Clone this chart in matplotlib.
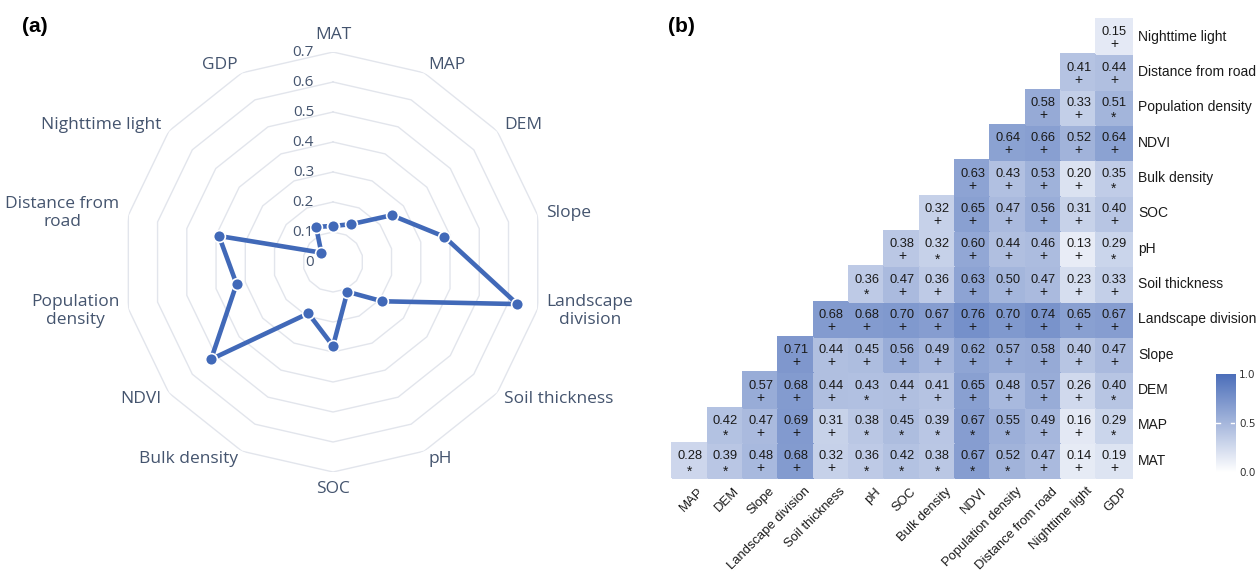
import numpy as np
import matplotlib
matplotlib.use("Agg")
import matplotlib.pyplot as plt
from matplotlib.colors import LinearSegmentedColormap

# ---- radar data (a) ----
radar_labels = ["MAT", "MAP", "DEM", "Slope", "Landscape\ndivision", "Soil thickness",
                "pH", "SOC", "Bulk density", "NDVI", "Population\ndensity",
                "Distance from\nroad", "Nighttime light", "GDP"]
radar_values = [0.12, 0.14, 0.25, 0.38, 0.63, 0.21, 0.11, 0.28, 0.19, 0.52, 0.33,
                0.39, 0.05, 0.13]
radar_ticks = [0, 0.1, 0.2, 0.3, 0.4, 0.5, 0.6, 0.7]

# ---- correlation data (b) ----
row_names = ["MAT", "MAP", "DEM", "Slope", "Landscape division", "Soil thickness", "pH",
             "SOC", "Bulk density", "NDVI", "Population density", "Distance from road",
             "Nighttime light"]
col_names = ["MAP", "DEM", "Slope", "Landscape division", "Soil thickness", "pH", "SOC",
             "Bulk density", "NDVI", "Population density", "Distance from road",
             "Nighttime light", "GDP"]
# each row starts at the column with the same index (upper triangle)
corr_rows = [
    [0.28, 0.39, 0.48, 0.68, 0.32, 0.36, 0.42, 0.38, 0.67, 0.52, 0.47, 0.14, 0.19],
    [0.42, 0.47, 0.69, 0.31, 0.38, 0.45, 0.39, 0.67, 0.55, 0.49, 0.16, 0.29],
    [0.57, 0.68, 0.44, 0.43, 0.44, 0.41, 0.65, 0.48, 0.57, 0.26, 0.40],
    [0.71, 0.44, 0.45, 0.56, 0.49, 0.62, 0.57, 0.58, 0.40, 0.47],
    [0.68, 0.68, 0.70, 0.67, 0.76, 0.70, 0.74, 0.65, 0.67],
    [0.36, 0.47, 0.36, 0.63, 0.50, 0.47, 0.23, 0.33],
    [0.38, 0.32, 0.60, 0.44, 0.46, 0.13, 0.29],
    [0.32, 0.65, 0.47, 0.56, 0.31, 0.40],
    [0.63, 0.43, 0.53, 0.20, 0.35],
    [0.64, 0.66, 0.52, 0.64],
    [0.58, 0.33, 0.51],
    [0.41, 0.44],
    [0.15],
]
sig_rows = ["**+++*****+++", "*+++*****++*", "+++*++++++*", "++++++++++", "+++++++++",
            "*+++++++", "+*++++*", "++++++", "++++*", "++++", "++*", "++", "+"]

line_color = "#4169b8"
grid_color = "#e2e5ec"
label_color = "#44546e"

fig = plt.figure(figsize=(12.57, 5.78), dpi=100)

# ================= (a) radar =================
ax = fig.add_axes([0.0979, 0.1834, 0.3341, 0.7266], projection="polar")
ax.set_theta_zero_location("N")
ax.set_theta_direction(-1)
ax.set_ylim(0, 0.7)
ax.axis("off")

n = len(radar_labels)
theta = np.arange(n) * 2 * np.pi / n
theta_c = np.r_[theta, theta[0]]

for r in radar_ticks[1:]:
    ax.plot(theta_c, [r] * (n + 1), color=grid_color, lw=1.0, zorder=1)

vals = np.r_[radar_values, radar_values[0]]
ax.plot(theta_c, vals, color=line_color, lw=3.3, marker="o", ms=8.5,
        mec="white", mew=1.2, zorder=3, solid_joinstyle="round")

for t, lab in zip(theta, radar_labels):
    s, c = np.sin(t), np.cos(t)
    if abs(s) < 0.01:
        ha = "center"
        va = "bottom" if c > 0 else "top"
    else:
        ha = "left" if s > 0 else "right"
        va = "center"
    ax.annotate(lab, xy=(t, 0.7), xytext=(9 * s, 9 * c), textcoords="offset pixels",
                ha=ha, va=va, fontsize=12.5, color=label_color, family="Open Sans",
                multialignment="center", linespacing=1.15, annotation_clip=False)

for r in radar_ticks:
    ax.annotate("%g" % r, xy=(0, r), xytext=(-19, 0), textcoords="offset pixels",
                ha="right", va="center", fontsize=11, color=label_color,
                family="Open Sans", annotation_clip=False)

fig.text(0.0175, 0.955, "(a)", fontsize=15, fontweight="bold", family="Liberation Sans",
         ha="left", va="center")

# ================= (b) correlation heatmap =================
cmap = LinearSegmentedColormap.from_list("wb", ["#ffffff", "#4a6db9"])

nr, nc = len(row_names), len(col_names)
mat = np.full((nr, nc), np.nan)
for i, row in enumerate(corr_rows):
    mat[i, i:] = row

hx = fig.add_axes([0.5306, 0.1633, 0.3739, 0.8131])
hx.set_xlim(-0.65, nc - 0.35)
hx.set_ylim(-0.65, nr - 0.35)
hx.set_xticks([])
hx.set_yticks([])
for sp in hx.spines.values():
    sp.set_visible(False)

xs = np.arange(nc + 1) - 0.5
ys = np.arange(nr + 1) - 0.5
hx.pcolormesh(xs, ys, np.ma.masked_invalid(mat), cmap=cmap, vmin=0, vmax=1,
              edgecolors="face", linewidth=0.3)

for i, row in enumerate(corr_rows):
    for k, v in enumerate(row):
        j = i + k
        mark = sig_rows[i][k]
        hx.text(j, i + 0.12, "%.2f" % v, ha="center", va="center", fontsize=9.3,
                color="#1a1a1a", family="Liberation Sans")
        dy = -0.31 if mark == "*" else -0.22
        hx.text(j, i + dy, mark, ha="center", va="center", fontsize=10,
                color="#1a1a1a", family="Liberation Sans")

for i, name in enumerate(row_names):
    hx.text(nc - 0.5 + 0.19, i, name, ha="left", va="center", fontsize=10,
            color="#1a1a1a", family="Liberation Sans", clip_on=False)
for j, name in enumerate(col_names):
    hx.text(j + 0.22, -0.5 - 0.2, name, ha="right", va="top", rotation=45,
            rotation_mode="anchor", fontsize=9.4, color="#1a1a1a",
            family="Liberation Sans", clip_on=False)

fig.text(0.5312, 0.955, "(b)", fontsize=15, fontweight="bold", family="Liberation Sans",
         ha="left", va="center")

# colour bar
cax = fig.add_axes([0.9671, 0.1834, 0.0154, 0.1696])
grad = np.linspace(0, 1, 256)[:, None]
cax.imshow(grad, cmap=cmap, aspect="auto", origin="lower", extent=[0, 1, 0, 1])
cax.set_xlim(0, 1)
cax.set_ylim(0, 1)
cax.plot([0, 0.22], [0.5, 0.5], color="white", lw=1)
cax.plot([0.78, 1], [0.5, 0.5], color="white", lw=1)
cax.set_xticks([])
cax.set_yticks([0, 0.5, 1])
cax.set_yticklabels(["0.0", "0.5", "1.0"])
cax.yaxis.tick_right()
cax.tick_params(length=0, pad=3, labelsize=7.5, labelcolor="#333333")
for sp in cax.spines.values():
    sp.set_visible(False)

fig.savefig("out.png", dpi=100)
